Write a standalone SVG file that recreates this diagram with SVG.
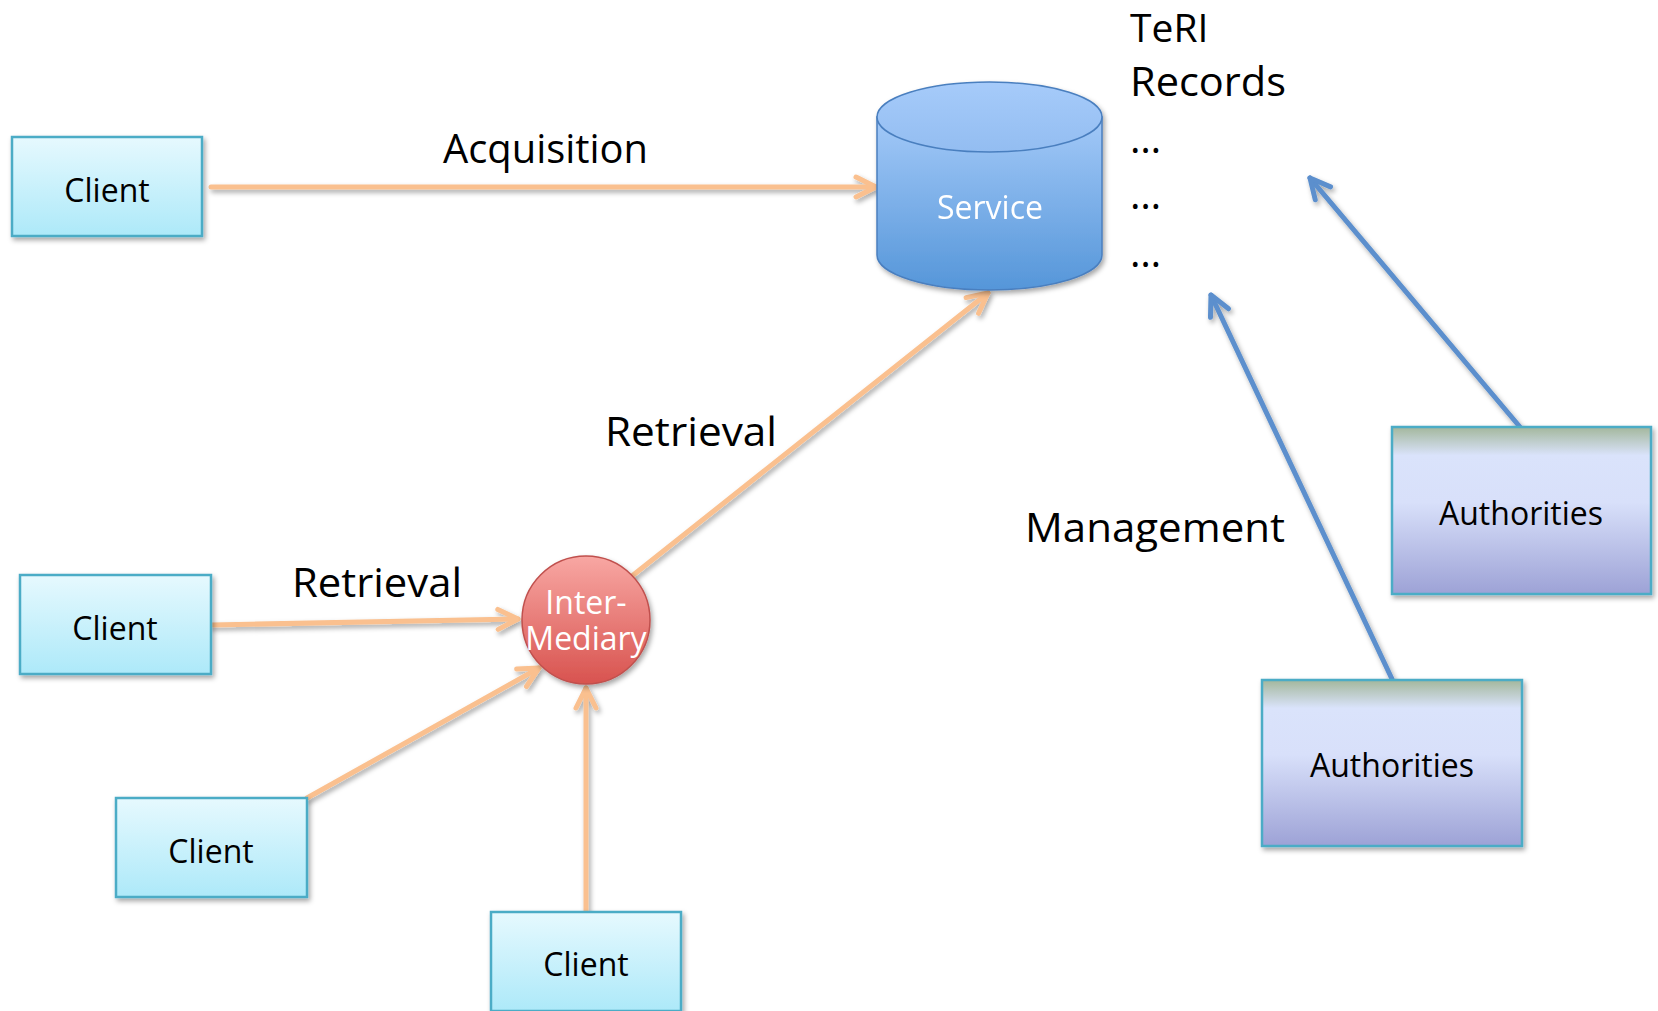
<svg xmlns="http://www.w3.org/2000/svg" width="1658" height="1011" viewBox="0 0 1658 1011">
<style>
text{font-family:"Open Sans","Noto Sans","Liberation Sans",sans-serif;fill:#000}
.lbl{font-size:40px}
.node{font-size:32px;text-anchor:middle}
.client{fill:url(#gClient);stroke:#4bacc6;stroke-width:2.5}
.auth{fill:url(#gAuth);stroke:#4bacc6;stroke-width:2.5}
.pe{fill:none;stroke:#fac08f;stroke-width:5;stroke-linecap:round;marker-end:url(#mPe)}
.bl{fill:none;stroke:#5b8fcd;stroke-width:5;stroke-linecap:round;marker-end:url(#mBl)}
</style>
<defs>
<linearGradient id="gClient" x1="0" y1="0" x2="0" y2="1"><stop offset="0" stop-color="#e6f9fe"/><stop offset="1" stop-color="#ade9f9"/></linearGradient>
<linearGradient id="gAuth" x1="0" y1="0" x2="0" y2="1"><stop offset="0" stop-color="#a3b79c"/><stop offset="0.17" stop-color="#dae3fb"/><stop offset="0.45" stop-color="#d8e0fa"/><stop offset="1" stop-color="#9da2d6"/></linearGradient>
<linearGradient id="gCyl" x1="0" y1="0" x2="0" y2="1"><stop offset="0" stop-color="#a3c9f8"/><stop offset="1" stop-color="#5596d9"/></linearGradient>
<linearGradient id="gTop" x1="0" y1="0" x2="0" y2="1"><stop offset="0" stop-color="#a6cbfa"/><stop offset="1" stop-color="#93bdf1"/></linearGradient>
<linearGradient id="gCirc" x1="0" y1="0" x2="0" y2="1"><stop offset="0" stop-color="#f8a7a3"/><stop offset="1" stop-color="#d8534f"/></linearGradient>
<filter id="sh" x="-20%" y="-20%" width="140%" height="140%"><feDropShadow dx="2" dy="3" stdDeviation="2.5" flood-color="#000" flood-opacity="0.35"/></filter>
<marker id="mPe" markerUnits="userSpaceOnUse" markerWidth="40" markerHeight="40" viewBox="-30 -20 40 40" refX="0" refY="0" orient="auto"><path d="M-20,-10 L0,0 L-20,10" fill="none" stroke="#fac08f" stroke-width="5" stroke-linecap="round" stroke-linejoin="round"/></marker>
<marker id="mBl" markerUnits="userSpaceOnUse" markerWidth="40" markerHeight="40" viewBox="-30 -20 40 40" refX="0" refY="0" orient="auto"><path d="M-20,-10 L0,0 L-20,10" fill="none" stroke="#5b8fcd" stroke-width="5" stroke-linecap="round" stroke-linejoin="round"/></marker>
</defs>
<rect width="1658" height="1011" fill="#fff"/>
<g id="connectors" filter="url(#sh)">
<line class="pe" x1="211" y1="187" x2="876" y2="187"/>
<line class="pe" x1="632" y1="576" x2="988" y2="293"/>
<line class="pe" x1="211" y1="625" x2="518" y2="619"/>
<line class="pe" x1="307" y1="798" x2="539" y2="668"/>
<line class="pe" x1="586" y1="911" x2="586" y2="688"/>
<line class="bl" x1="1520" y1="427" x2="1310" y2="178"/>
<line class="bl" x1="1392" y1="679" x2="1211" y2="295"/>
</g>
<g id="labels">
<text class="lbl" x="443" y="163" textLength="205" lengthAdjust="spacingAndGlyphs">Acquisition</text>
<text class="lbl" x="605" y="446" textLength="172" lengthAdjust="spacingAndGlyphs">Retrieval</text>
<text class="lbl" x="292" y="597" textLength="170" lengthAdjust="spacingAndGlyphs">Retrieval</text>
<text class="lbl" x="1025" y="542" textLength="260" lengthAdjust="spacingAndGlyphs">Management</text>
<text class="lbl" x="1130" y="42" style="font-size:39px">TeRI</text>
<text class="lbl" x="1130" y="96" textLength="156" lengthAdjust="spacingAndGlyphs">Records</text>
<text class="lbl" x="1130" y="153">…</text>
<text class="lbl" x="1130" y="209">…</text>
<text class="lbl" x="1130" y="267">…</text>
</g>
<g id="client1"><rect class="client" x="12" y="137" width="190" height="99" filter="url(#sh)"/><text class="node" x="107" y="202">Client</text></g>
<g id="client2"><rect class="client" x="20" y="575" width="191" height="99" filter="url(#sh)"/><text class="node" x="115" y="640">Client</text></g>
<g id="client3"><rect class="client" x="116" y="798" width="191" height="99" filter="url(#sh)"/><text class="node" x="211" y="863">Client</text></g>
<g id="client4"><rect class="client" x="491" y="912" width="190" height="99" filter="url(#sh)"/><text class="node" x="586" y="976">Client</text></g>
<g id="service" filter="url(#sh)">
<path d="M877,117 L877,255 A112.5,35 0 0 0 1102,255 L1102,117 Z" fill="url(#gCyl)" stroke="#4a7fbf" stroke-width="1.5"/>
<ellipse cx="989.5" cy="117" rx="112.5" ry="35" fill="url(#gTop)" stroke="#4a7fbf" stroke-width="1.5"/>
<text class="node" x="990" y="219" style="fill:#fff">Service</text>
</g>
<g id="intermediary">
<circle cx="586" cy="620" r="64" fill="url(#gCirc)" stroke="#c0504d" stroke-width="1.5" filter="url(#sh)"/>
<text class="node" style="fill:#fff"><tspan x="586" y="614">Inter-</tspan><tspan x="586" y="650">Mediary</tspan></text>
</g>
<g id="authorities1"><rect class="auth" x="1392" y="427" width="259" height="167" filter="url(#sh)"/><text class="node" x="1521" y="525">Authorities</text></g>
<g id="authorities2"><rect class="auth" x="1262" y="680" width="260" height="166" filter="url(#sh)"/><text class="node" x="1392" y="777">Authorities</text></g>
</svg>
